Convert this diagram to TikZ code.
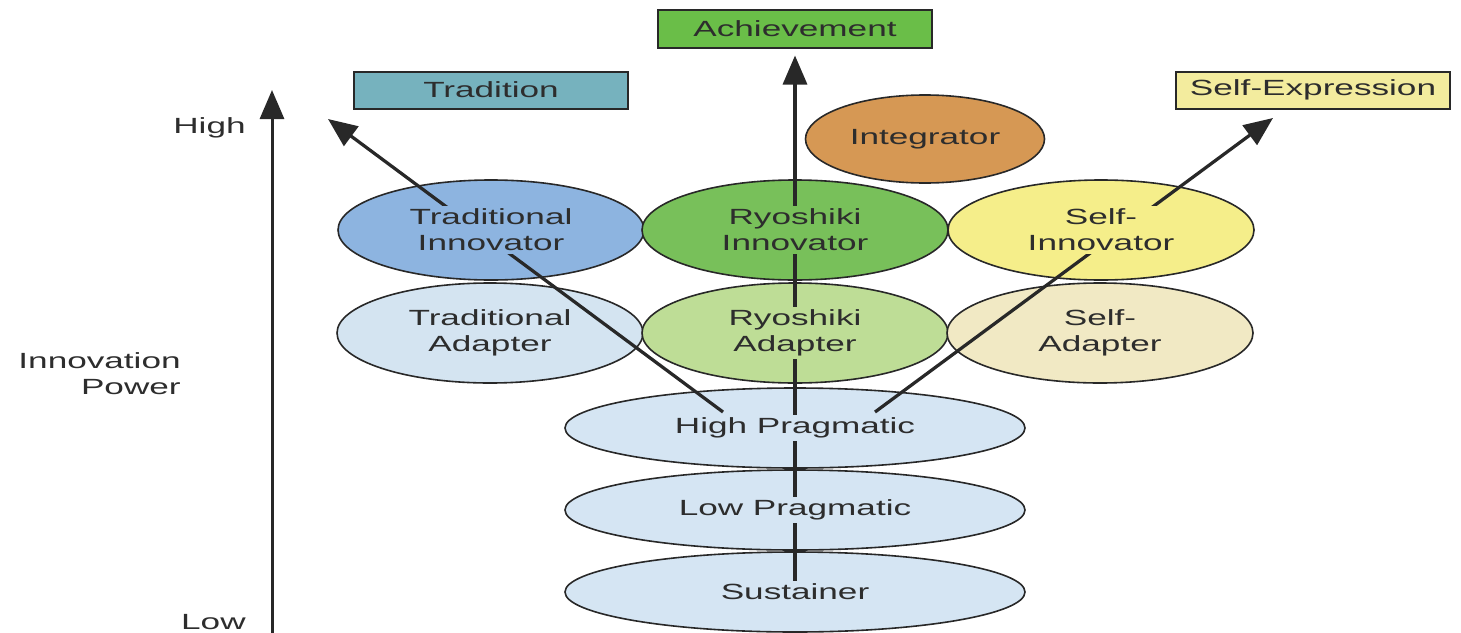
\documentclass[tikz,border=0pt]{standalone}
\usepackage{fontspec}
\setmainfont{Liberation Sans}[FakeStretch=1.6]
\usetikzlibrary{arrows.meta,shapes.geometric}

\definecolor{inkGray}{RGB}{40,40,40}
\definecolor{textGray}{RGB}{45,45,45}
\definecolor{tradBox}{RGB}{118,178,190}
\definecolor{achBox}{RGB}{106,190,72}
\definecolor{exprBox}{RGB}{243,236,158}
\definecolor{integFill}{RGB}{214,152,84}
\definecolor{tradInno}{RGB}{141,180,224}
\definecolor{ryoInno}{RGB}{120,192,90}
\definecolor{selfInno}{RGB}{245,238,138}
\definecolor{tradAdap}{RGB}{212,228,241}
\definecolor{ryoAdap}{RGB}{190,221,150}
\definecolor{selfAdap}{RGB}{241,233,196}
\definecolor{pragFill}{RGB}{213,229,243}

\newcommand{\labelfont}{\fontsize{12.5}{14.8}\selectfont}

\tikzset{
  tagbox/.style={rectangle, draw=inkGray, line width=0.4mm, minimum width=54.8mm,
    minimum height=7.4mm, text=textGray, font=\labelfont},
  oval/.style={ellipse, draw=inkGray, line width=0.32mm, inner sep=0pt},
  bigoval/.style={oval, minimum width=61.2mm, minimum height=20mm},
  flatoval/.style={oval, minimum width=92mm, minimum height=16mm},
  lbl/.style={align=center, inner sep=0.6mm, text=textGray, font=\labelfont},
  sidelbl/.style={anchor=east, align=right, inner sep=0pt, text=textGray, font=\labelfont},
  flow/.style={line width=0.65mm, draw=inkGray, -{Triangle[length=5.8mm,width=4.8mm]}},
}

\begin{document}
\begin{tikzpicture}[x=0.2mm, y=-0.2mm]
  \useasboundingbox (0,0) rectangle (1461,633);

  % value boxes along the top
  \node[tagbox, fill=tradBox] (trad) at (491,90) {Tradition};
  \node[tagbox, fill=achBox] (ach) at (795,29) {Achievement};
  \node[tagbox, fill=exprBox] (expr) at (1313,90) {Self-Expression};

  % the ovals, filled only; their texts go on last
  \node[oval, fill=integFill, minimum width=47.8mm, minimum height=17.6mm] (integ) at (925,139) {};
  \node[bigoval, fill=tradInno] (ti) at (491,230) {};
  \node[bigoval, fill=ryoInno] (ri) at (795,230) {};
  \node[bigoval, fill=selfInno] (si) at (1101,230) {};
  \node[bigoval, fill=tradAdap] (ta) at (490,333) {};
  \node[bigoval, fill=ryoAdap] (ra) at (795,333) {};
  \node[bigoval, fill=selfAdap] (sa) at (1100,333) {};
  \node[flatoval, fill=pragFill] (hp) at (795,428) {};
  \node[flatoval, fill=pragFill] (lp) at (795,510) {};
  \node[flatoval, fill=pragFill] (sus) at (795,592) {};

  % innovation power axis
  \coordinate (axBot) at (272,640);
  \coordinate (axTop) at (272,90);
  \draw[flow, line width=0.6mm] (axBot) -- (axTop);
  \node[sidelbl] (high) at (246,128) {High};
  \node[sidelbl] (power) at (181,374) {Innovation\\Power};
  \node[sidelbl] (low) at (246,622) {Low};

  % paths out of the pragmatic layer
  \coordinate (tradFoot) at (723,412);
  \coordinate (tradTip) at (328,119);
  \coordinate (exprFoot) at (875,412);
  \coordinate (exprTip) at (1273,118);
  \draw[flow, shorten >=1.4mm] (sus.center) -- (ach.south);
  \draw[flow] (tradFoot) -- (tradTip);
  \draw[flow] (exprFoot) -- (exprTip);

  % texts on top, their fill hides the lines behind them
  \node[lbl, fill=integFill] (integTxt) at (integ) {Integrator};
  \node[lbl, fill=tradInno] (tiTxt) at (ti) {Traditional\\Innovator};
  \node[lbl, fill=ryoInno] (riTxt) at (ri) {Ryoshiki\\Innovator};
  \node[lbl, fill=selfInno] (siTxt) at (si) {Self-\\Innovator};
  \node[lbl, fill=tradAdap] (taTxt) at (ta) {Traditional\\Adapter};
  \node[lbl, fill=ryoAdap] (raTxt) at (ra) {Ryoshiki\\Adapter};
  \node[lbl, fill=selfAdap] (saTxt) at (sa) {Self-\\Adapter};
  \node[lbl, fill=pragFill] (hpTxt) at (hp) {High Pragmatic};
  \node[lbl, fill=pragFill] (lpTxt) at (lp) {Low Pragmatic};
  \node[lbl, fill=pragFill] (susTxt) at (sus) {Sustainer};
\end{tikzpicture}
\end{document}
